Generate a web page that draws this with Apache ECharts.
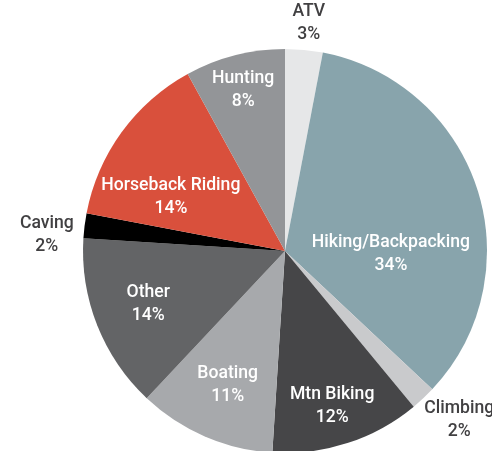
<!DOCTYPE html>
<html>
<head>
<meta charset="utf-8">
<script src="https://cdn.jsdelivr.net/npm/echarts@6/dist/echarts.min.js"></script>
<style>
  html, body { margin: 0; padding: 0; background: #fff; }
  #main { width: 492px; height: 451px; }
</style>
</head>
<body>
<div id="main"></div>
<script>
// slices, clockwise from 12 o'clock
const categories = ['ATV', 'Hiking/Backpacking', 'Climbing', 'Mtn Biking', 'Boating', 'Other', 'Caving', 'Horseback Riding', 'Hunting'];
const shares = [3, 34, 2, 12, 11, 14, 2, 14, 8];

const sliceColors = ['#e6e7e8', '#88a4ac', '#c9cacc', '#464648', '#a7a9ac', '#636466', '#000000', '#d9503c', '#939598'];
// labels that sit outside the pie are dark, the rest white
const outsideLabel = [true, false, true, false, false, false, true, false, false];
// nudges from the default inner label spot
const labelOffsets = [[14, -124], [7, 35], [103, 93], [15, 56], [-16, 39], [-40, 15], [-135, -3], [-30, 7], [-16, -60]];

const myChart = echarts.init(document.getElementById('main'));

const data = categories.map((name, i) => ({
  name,
  value: shares[i],
  itemStyle: { color: sliceColors[i] },
  label: {
    offset: labelOffsets[i],
    color: outsideLabel[i] ? '#414042' : '#ffffff',
  },
}));

const option = {
  animation: false,
  series: [{
    type: 'pie',
    center: [285, 251],
    radius: 202,
    startAngle: 90,
    clockwise: true,
    avoidLabelOverlap: false,
    itemStyle: { borderWidth: 0 },
    label: {
      show: true,
      position: 'inner',
      formatter: '{b}\n{c}%',
      fontFamily: 'Roboto',
      fontWeight: 500,
      fontSize: 17.6,
      lineHeight: 23,
      align: 'center',
    },
    labelLine: { show: false },
    emphasis: { disabled: true },
    data,
  }],
};

myChart.setOption(option);
</script>
</body>
</html>
